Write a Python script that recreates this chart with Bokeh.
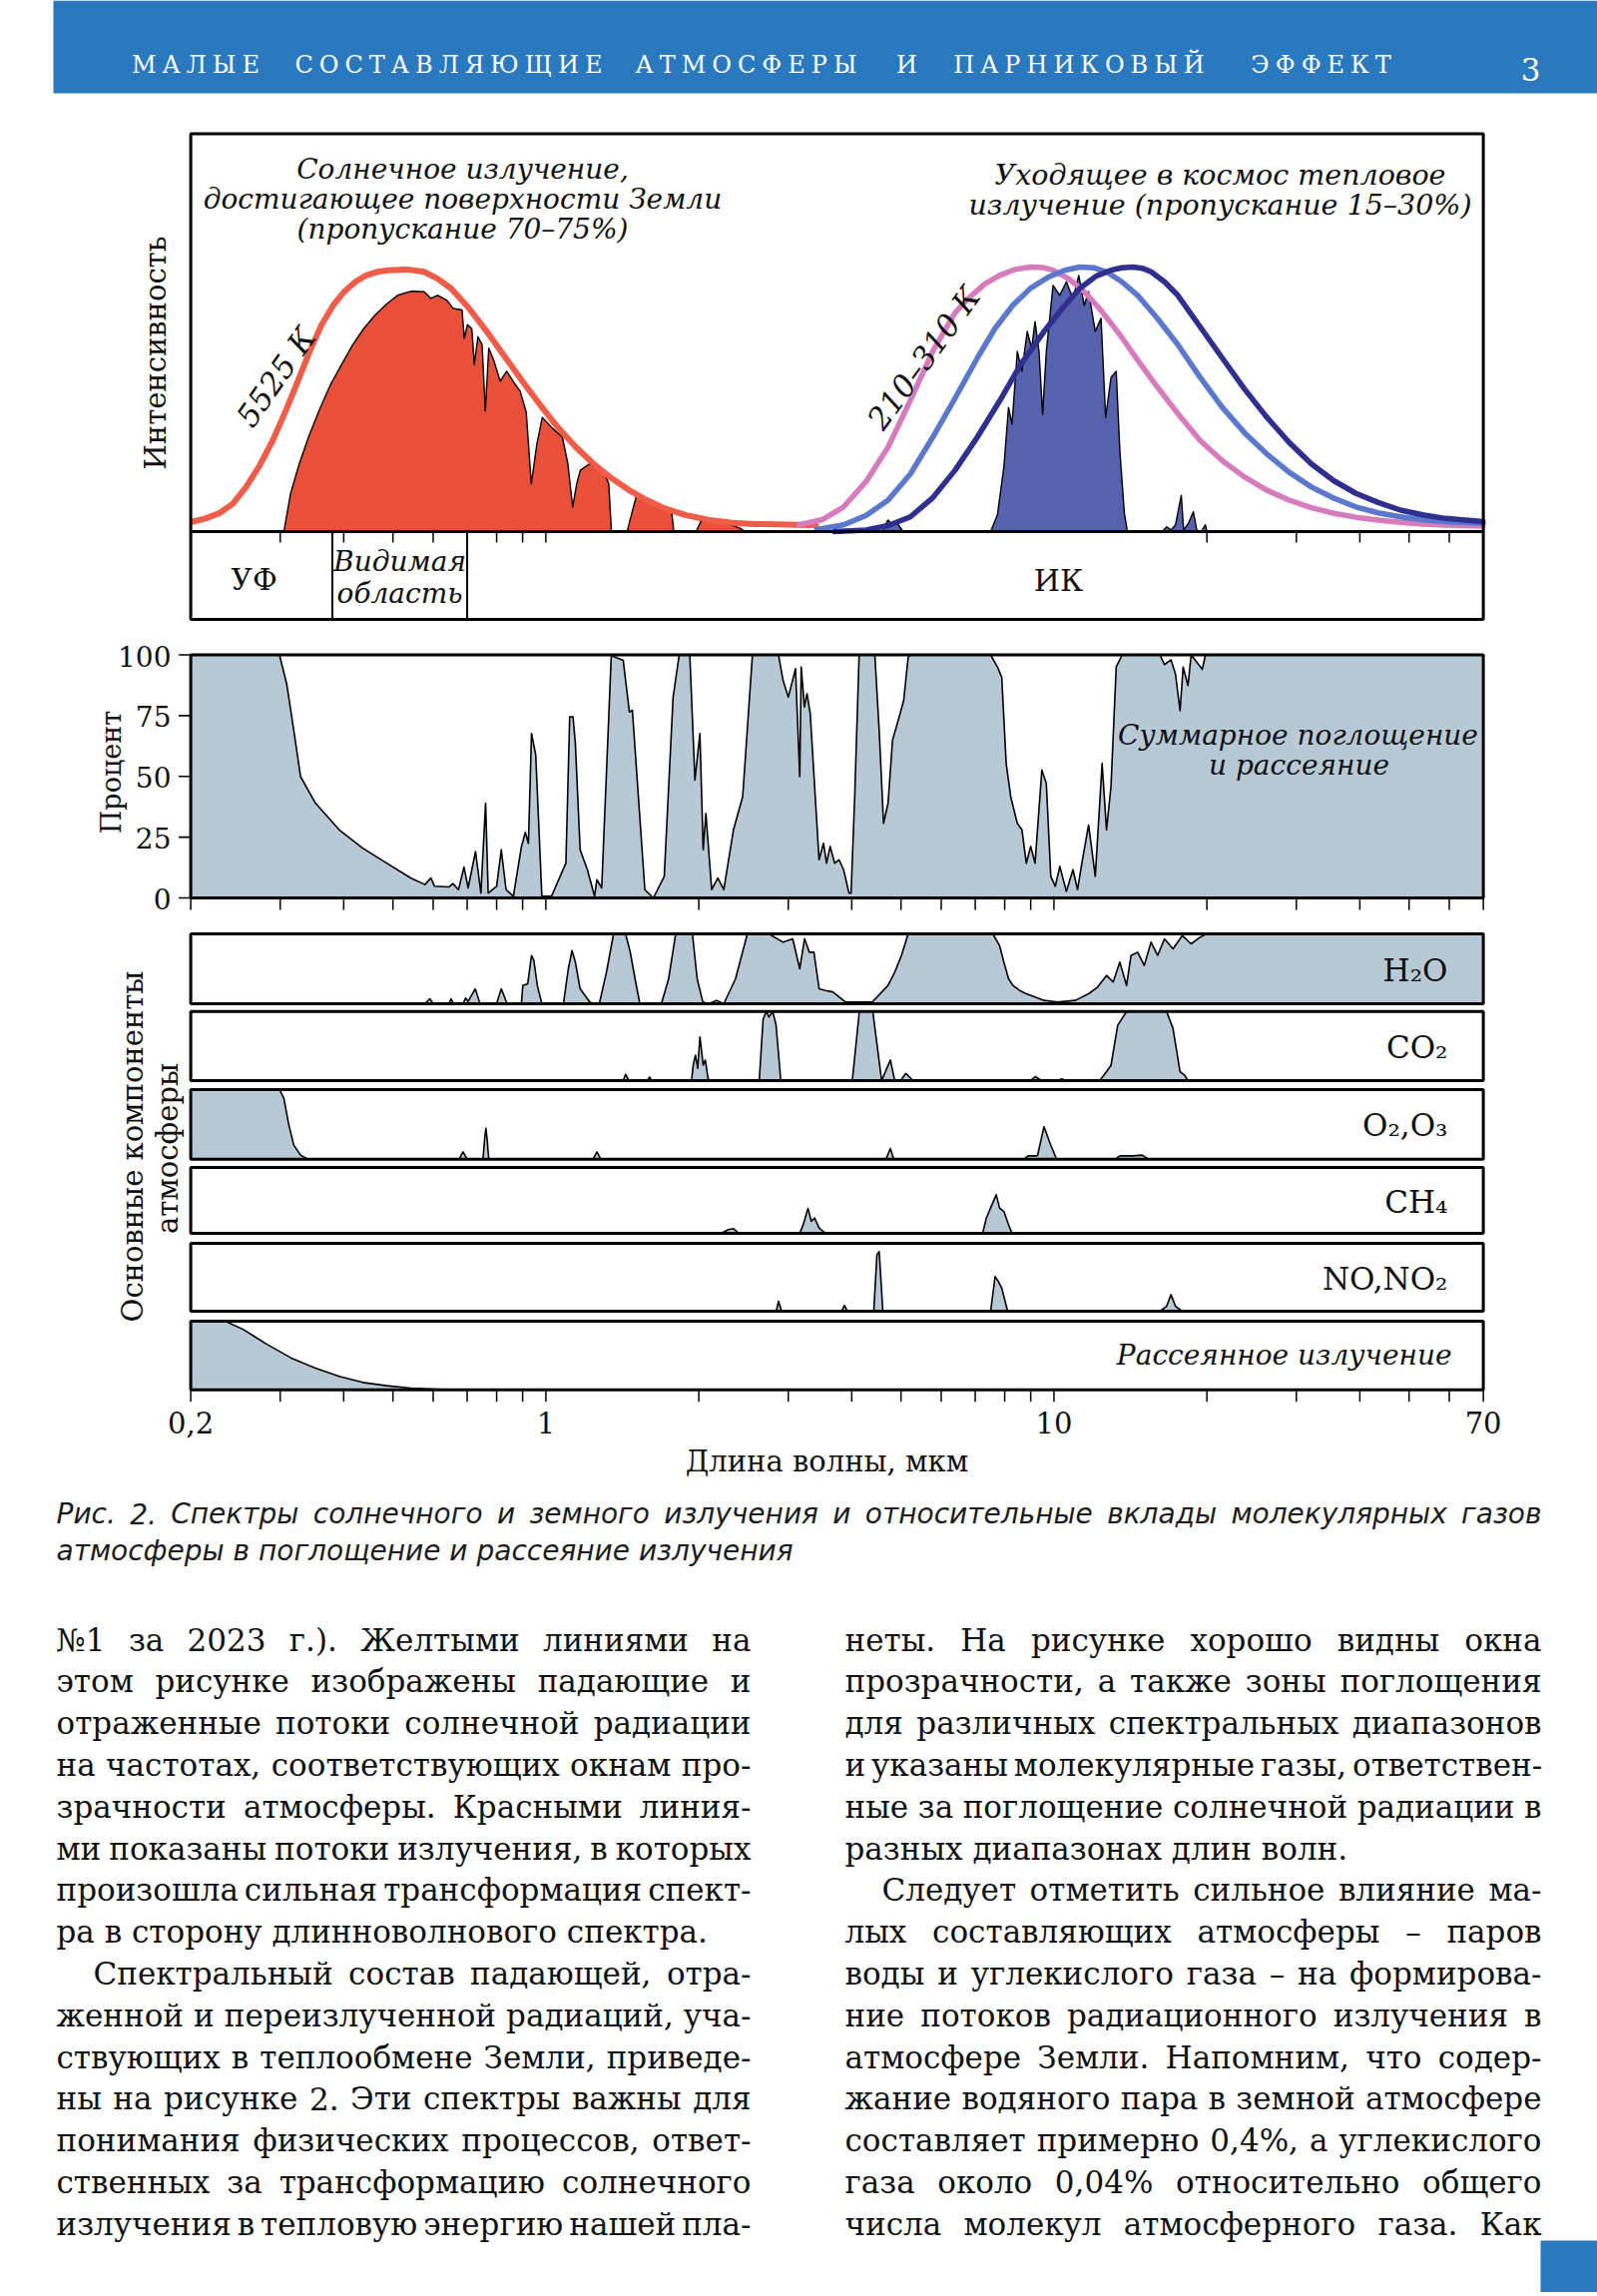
import math, glob, os
from bokeh.plotting import figure
from bokeh.models import Range1d, LinearScale, LogScale
from bokeh.core.properties import value
from bokeh.embed import file_html
from bokeh.resources import INLINE

# ================= DATA (wavelength in micrometres) =================
# Solar black body curve, 5525 K (relative intensity, 0 = baseline, 1 = top of frame)
bb5525_wl = [0.2017, 0.214, 0.2275, 0.242, 0.257, 0.273, 0.29, 0.308, 0.327, 0.344,
             0.362, 0.381, 0.401, 0.422, 0.443, 0.466, 0.49, 0.532, 0.576, 0.612,
             0.651, 0.705, 0.765, 0.83, 0.899, 0.975, 1.056, 1.146, 1.242, 1.346,
             1.459, 1.58, 1.715, 1.89, 2.099, 2.33, 2.569, 2.85, 3.144, 3.40]
bb5525_int = [0.025, 0.033, 0.046, 0.07, 0.112, 0.165, 0.229, 0.305, 0.387, 0.457,
              0.52, 0.568, 0.603, 0.628, 0.644, 0.653, 0.657, 0.659, 0.653, 0.636,
              0.611, 0.562, 0.503, 0.44, 0.378, 0.318, 0.262, 0.212, 0.17, 0.134,
              0.104, 0.079, 0.058, 0.041, 0.029, 0.022, 0.019, 0.018, 0.017, 0.016]

# Solar radiation reaching the surface
solar_wl = [0.305, 0.3145, 0.327, 0.341, 0.358, 0.377, 0.397, 0.417, 0.438, 0.461,
            0.486, 0.511, 0.542, 0.576, 0.594, 0.612, 0.638, 0.657, 0.684, 0.691,
            0.701, 0.715, 0.723, 0.735, 0.749, 0.760, 0.772, 0.79, 0.813, 0.837,
            0.865, 0.89, 0.915, 0.936, 0.96, 0.984, 1.03, 1.078, 1.105, 1.129,
            1.15, 1.169, 1.217, 1.26, 1.306, 1.33, 1.346, 1.445, 1.459, 1.505,
            1.56, 1.614, 1.69, 1.768, 1.786, 1.975, 2.017, 2.142, 2.3, 2.417, 2.467]
solar_int = [0, 0.096, 0.17, 0.237, 0.305, 0.37, 0.422, 0.47, 0.51, 0.544,
             0.572, 0.594, 0.604, 0.603, 0.586, 0.594, 0.582, 0.561, 0.557, 0.486,
             0.52, 0.51, 0.42, 0.49, 0.47, 0.303, 0.461, 0.43, 0.378, 0.403,
             0.375, 0.353, 0.3, 0.12, 0.22, 0.287, 0.26, 0.237, 0.17, 0.062,
             0.12, 0.154, 0.17, 0.16, 0.145, 0.12, 0, 0, 0.021, 0.087,
             0.085, 0.079, 0.065, 0.05, 0, 0, 0.025, 0.029, 0.018, 0.008, 0]

# Thermal curves 210-310 K
ir_cold_wl = [3.15, 3.5, 3.855, 4.264, 4.715, 5.218, 5.773, 6.387, 6.785, 7.3,
              7.815, 8.4, 9.0, 9.5, 9.96, 10.7, 11.47, 12.4, 13.48, 14.6,
              15.84, 17.5, 19.39, 21.45, 23.73, 26.25, 29.04, 32.12, 35.53, 39.3,
              43.48, 48.1, 53.2, 58.9, 69.9]
ir_cold_int = [0.017, 0.03, 0.062, 0.125, 0.212, 0.33, 0.453, 0.55, 0.586, 0.622,
               0.644, 0.659, 0.665, 0.664, 0.657, 0.635, 0.603, 0.555, 0.495, 0.432,
               0.37, 0.298, 0.229, 0.178, 0.137, 0.104, 0.079, 0.06, 0.046, 0.036,
               0.029, 0.023, 0.019, 0.016, 0.014]
ir_mid_wl = [3.414, 3.855, 4.264, 4.715, 5.218, 5.773, 6.387, 7.065, 7.65, 8.302,
             9.0, 9.757, 10.5, 11.24, 12.0, 12.69, 13.6, 14.61, 16.0, 17.53,
             19.39, 21.45, 23.73, 26.25, 29.04, 32.12, 35.53, 39.3, 43.48, 48.1,
             53.2, 58.9, 69.9]
ir_mid_int = [0.005, 0.017, 0.04, 0.079, 0.145, 0.237, 0.335, 0.436, 0.51, 0.569,
              0.612, 0.64, 0.657, 0.665, 0.663, 0.653, 0.628, 0.594, 0.535, 0.47,
              0.388, 0.312, 0.248, 0.195, 0.149, 0.112, 0.084, 0.062, 0.047, 0.037,
              0.03, 0.025, 0.021]
ir_warm_wl = [3.7, 4.264, 4.715, 5.218, 5.773, 6.387, 7.065, 7.815, 8.6, 9.563,
              10.4, 11.24, 12.1, 12.95, 13.6, 14.32, 15.0, 15.53, 16.5, 17.53,
              19.39, 21.45, 23.73, 26.25, 29.04, 32.12, 35.53, 39.3, 43.48, 48.1,
              53.2, 58.9, 69.9]
ir_warm_int = [0.0, 0.004, 0.015, 0.037, 0.085, 0.154, 0.237, 0.328, 0.42, 0.503,
               0.562, 0.611, 0.642, 0.657, 0.663, 0.665, 0.661, 0.653, 0.628, 0.594,
               0.515, 0.436, 0.358, 0.287, 0.224, 0.17, 0.128, 0.096, 0.073, 0.054,
               0.042, 0.033, 0.025]

# Outgoing thermal radiation (transmitted)
earth_wl = [4.6, 4.62, 4.715, 4.81, 4.92, 5.05, 7.506, 7.74, 7.97, 8.14,
            8.27, 8.47, 8.65, 8.86, 9.04, 9.18, 9.35, 9.5, 9.66, 9.96,
            10.27, 10.58, 10.9, 11.19, 11.47, 11.7, 12.06, 12.38, 12.64, 12.95,
            13.26, 13.48, 13.76, 13.95, 16.33, 16.67, 17.0, 17.35, 17.81, 18.0,
            18.4, 18.81, 19.1, 19.5, 19.86, 20.0]
earth_int = [0, 0.01, 0.029, 0.017, 0.02, 0, 0, 0.042, 0.162, 0.312,
             0.27, 0.453, 0.403, 0.503, 0.461, 0.528, 0.45, 0.295, 0.453, 0.619,
             0.594, 0.628, 0.586, 0.644, 0.569, 0.603, 0.503, 0.536, 0.287, 0.387,
             0.403, 0.204, 0.046, 0, 0, 0.012, 0.004, 0.017, 0.091, 0.004,
             0.021, 0.05, 0.004, 0, 0.017, 0]

# Total absorption and scattering, percent
pct_wl = [0.2, 0.299, 0.309, 0.319, 0.329, 0.352, 0.392, 0.436, 0.486, 0.542,
          0.578, 0.594, 0.604, 0.644, 0.656, 0.673, 0.69, 0.703, 0.727, 0.745,
          0.761, 0.77, 0.80, 0.817, 0.835, 0.863, 0.895, 0.911, 0.924, 0.937,
          0.955, 0.982, 1.026, 1.095, 1.114, 1.131, 1.143, 1.168, 1.207, 1.247,
          1.26, 1.288, 1.345, 1.42, 1.46, 1.48, 1.566, 1.628, 1.71, 1.78,
          1.83, 1.92, 1.965, 2.01, 2.04, 2.065, 2.12, 2.18, 2.24, 2.34,
          2.44, 2.55, 2.87, 2.93, 3.0, 3.1, 3.16, 3.181, 3.227, 3.266,
          3.314, 3.449, 3.519, 3.568, 3.627, 3.702, 3.776, 3.855, 3.95, 3.988,
          4.054, 4.136, 4.441, 4.529, 4.62, 4.715, 4.812, 4.96, 5.062, 5.165,
          5.218, 7.506, 7.74, 7.893, 8.054, 8.22, 8.47, 8.65, 8.822, 9.0,
          9.18, 9.467, 9.66, 9.858, 10.06, 10.27, 10.58, 10.9, 11.13, 11.35,
          11.7, 12.06, 12.44, 12.69, 12.95, 13.26, 13.62, 16.17, 16.5, 17.0,
          17.35, 17.71, 17.96, 18.36, 18.62, 19.59, 19.87, 70]
pct_val = [100, 100, 88, 69, 49.9, 39, 28, 20.5, 14.3, 8.2,
           5.5, 8.2, 4.8, 4.5, 5.9, 3.4, 12.7, 4.1, 19.1, 2,
           39, 2, 4.8, 19.8, 3.4, 0.7, 21, 27, 22.5, 67.6,
           59, 0.7, 0.7, 14.3, 74.5, 74.5, 63.5, 19.8, 11.6, 0.7,
           7.5, 4.1, 99.7, 97.7, 76.5, 77.2, 3.4, 0, 8.9, 82.6,
           100, 100, 48.5, 67.6, 19.8, 34.8, 3.4, 8.2, 3.4, 28,
           41.7, 100, 100, 89.5, 82.6, 94.3, 49.9, 95, 78.6, 84,
           75.8, 15.7, 22.5, 14.3, 21.2, 14.3, 15.7, 11.6, 2, 2,
           41.7, 100, 100, 69, 30.7, 38.9, 64.9, 74.5, 81.3, 99,
           100, 100, 95, 90.8, 55.3, 41.7, 30.7, 28, 14.3, 21.2,
           14.3, 52.6, 47.1, 8.9, 4.8, 13, 2.7, 11.6, 3.4, 14.3,
           30, 8.9, 55.3, 28, 45.8, 95, 100, 100, 96, 98,
           92, 77, 95, 87.4, 100, 94, 100, 100]

# Individual atmospheric components (relative absorption 0..1)
h2o_wl = [0.578, 0.591, 0.6, 0.644, 0.651, 0.658, 0.687, 0.695, 0.703, 0.726,
          0.742, 0.80, 0.817, 0.839, 0.895, 0.901, 0.921, 0.937, 0.947, 0.962,
          0.982, 1.083, 1.107, 1.126, 1.143, 1.168, 1.207, 1.22, 1.247, 1.274,
          1.316, 1.359, 1.435, 1.466, 1.498, 1.531, 1.688, 1.744, 1.801, 1.943,
          1.985, 2.037, 2.095, 2.166, 2.24, 2.362, 2.492, 2.747, 2.93, 3.061,
          3.16, 3.23, 3.3, 3.37, 3.45, 3.55, 3.67, 3.89, 4.39, 4.715,
          4.86, 5.01, 5.165, 7.58, 7.815, 7.97, 8.14, 8.3, 8.56, 8.82,
          9.18, 9.56, 10.16, 11.02, 11.7, 12.19, 12.69, 13.08, 13.48, 13.9,
          14.18, 14.61, 15.06, 15.53, 16.0, 16.5, 17.15, 17.89, 18.62, 19.39,
          19.99, 70]
h2o_val = [0, 0.071, 0, 0, 0.071, 0, 0, 0.081, 0.033, 0.214,
           0, 0, 0.214, 0, 0, 0.262, 0.286, 0.69, 0.619, 0.262,
           0, 0, 0.5, 0.762, 0.595, 0.214, 0.071, 0.024, 0, 0,
           0.452, 1.0, 1.0, 0.738, 0.357, 0, 0, 0.357, 1.0, 1.0,
           0.357, 0.024, 0, 0.048, 0, 0.357, 1.0, 1.0, 0.881, 0.929,
           0.5, 0.929, 0.738, 0.738, 0.214, 0.19, 0.17, 0.024, 0.024, 0.262,
           0.452, 0.69, 1.0, 1.0, 0.833, 0.595, 0.357, 0.262, 0.19, 0.143,
           0.095, 0.048, 0.024, 0.048, 0.143, 0.238, 0.405, 0.31, 0.595, 0.262,
           0.69, 0.738, 0.548, 0.881, 0.69, 0.929, 0.786, 0.976, 0.857, 0.952,
           1.0, 1.0]
co2_wl = [1.42, 1.435, 1.457, 1.582, 1.6, 1.617, 1.935, 1.95, 1.97, 1.99,
          2.01, 2.04, 2.06, 2.085, 2.1, 2.63, 2.677, 2.718, 2.747, 2.796,
          2.838, 2.9, 4.01, 4.14, 4.40, 4.58, 4.765, 4.86, 4.99, 5.11,
          5.28, 9.0, 9.18, 9.47, 10.16, 10.36, 10.58, 12.31, 12.69, 12.95,
          13.35, 13.9, 16.66, 17.15, 17.71, 18.07, 18.36]
co2_val = [0, 0.091, 0, 0, 0.053, 0, 0, 0.225, 0.368, 0.177,
           0.632, 0.225, 0.297, 0.033, 0, 0, 0.895, 1.0, 0.919, 1.0,
           0.804, 0, 0, 1.0, 1.0, 0, 0.297, 0, 0, 0.105,
           0, 0, 0.057, 0, 0, 0.024, 0, 0, 0.129, 0.22,
           0.799, 1.0, 1.0, 0.756, 0.129, 0.081, 0]
o3_wl = [0.2, 0.299, 0.305, 0.312, 0.319, 0.329, 0.34, 0.675, 0.687, 0.7,
         0.752, 0.758, 0.762, 0.766, 0.772, 1.239, 1.26, 1.282, 4.67, 4.765,
         4.84, 8.73, 8.9, 9.18, 9.28, 9.56, 9.86, 10.12, 13.21, 13.48,
         14.32, 14.91, 15.36]
o3_val = [1.0, 1.0, 0.875, 0.49, 0.202, 0.058, 0, 0, 0.106, 0,
          0, 0.3, 0.442, 0.3, 0, 0, 0.106, 0, 0, 0.154,
          0, 0, 0.048, 0.048, 0.05, 0.466, 0.2, 0, 0, 0.048,
          0.048, 0.058, 0]
ch4_wl = [2.212, 2.285, 2.34, 2.40, 3.16, 3.21, 3.28, 3.33, 3.38, 3.45,
          3.55, 7.24, 7.36, 7.55, 7.7, 7.815, 7.97, 8.14, 8.27]
ch4_val = [0, 0.056, 0.071, 0, 0, 0.13, 0.38, 0.182, 0.232, 0.081,
           0, 0, 0.232, 0.434, 0.586, 0.384, 0.333, 0.131, 0]
no_wl = [2.84, 2.87, 2.91, 3.82, 3.87, 3.92, 4.42, 4.483, 4.53, 4.605,
         7.506, 7.66, 7.77, 7.893, 8.1, 8.47, 16.17, 16.66, 17.0, 17.35, 17.89]
no_val = [0, 0.146, 0, 0, 0.085, 0, 0, 0.83, 0.878, 0,
          0, 0.512, 0.439, 0.341, 0.01, 0, 0, 0.073, 0.244, 0.073, 0]
scat_wl = [0.2, 0.2356, 0.254, 0.283, 0.3155, 0.352, 0.392, 0.436, 0.486, 0.542, 0.604, 0.673]
scat_val = [1.0, 0.99, 0.878, 0.659, 0.463, 0.317, 0.195, 0.107, 0.059, 0.024, 0.0098, 0]

# spectral band edges (UV | visible | IR) and axis ticks
band_edges = [0.38, 0.70]
tick_wl_all = [0.2, 0.3, 0.4, 0.5, 0.6, 0.7, 0.8, 0.9, 1, 2, 3, 4, 5, 6, 7, 8, 9, 10,
               20, 30, 40, 50, 60, 70]
tick_wl_top = [0.3, 0.4, 0.5, 0.6, 0.7, 0.8, 0.9, 1, 20, 30, 40, 50, 60]
axis_label_wl = [0.2, 1, 10, 70]
axis_label_txt = ["0,2", "1", "10", "70"]
pct_ticks = [0, 25, 50, 75, 100]
pct_tick_txt = ["0", "25", "50", "75", "100"]

# ================= TEXT =================
header_words = ["МАЛЫЕ", "СОСТАВЛЯЮЩИЕ", "АТМОСФЕРЫ", "И", "ПАРНИКОВЫЙ", "ЭФФЕКТ"]
page_number = "3"
title_left = ["Солнечное излучение,", "достигающее поверхности Земли", "(пропускание 70–75%)"]
title_right = ["Уходящее в космос тепловое", "излучение (пропускание 15–30%)"]
pct_note = ["Суммарное поглощение", "и рассеяние"]
component_names = ["H₂O", "CO₂", "O₂,O₃", "CH₄", "NO,NO₂"]
caption_lines = [
    ("Рис. 2. Спектры солнечного и земного излучения и относительные вклады молекулярных газов", "j"),
    ("атмосферы в поглощение и рассеяние излучения", "e"),
]
left_col = [
    ("№1 за 2023 г.). Желтыми линиями на", "j"),
    ("этом рисунке изображены падающие и", "j"),
    ("отраженные потоки солнечной радиации", "j"),
    ("на частотах, соответствующих окнам про-", "j"),
    ("зрачности атмосферы. Красными линия-", "j"),
    ("ми показаны потоки излучения, в которых", "j"),
    ("произошла сильная трансформация спект-", "j"),
    ("ра в сторону длинноволнового спектра.", "e"),
    ("Спектральный состав падающей, отра-", "ij"),
    ("женной и переизлученной радиаций, уча-", "j"),
    ("ствующих в теплообмене Земли, приведе-", "j"),
    ("ны на рисунке  2. Эти спектры важны для", "j"),
    ("понимания физических процессов, ответ-", "j"),
    ("ственных за трансформацию солнечного", "j"),
    ("излучения в тепловую энергию нашей пла-", "j"),
]
right_col = [
    ("неты. На рисунке хорошо видны окна", "j"),
    ("прозрачности, а также зоны поглощения", "j"),
    ("для различных спектральных диапазонов", "j"),
    ("и указаны молекулярные газы, ответствен-", "j"),
    ("ные за поглощение солнечной радиации в", "j"),
    ("разных диапазонах длин волн.", "e"),
    ("Следует отметить сильное влияние ма-", "ij"),
    ("лых составляющих атмосферы – паров", "j"),
    ("воды и углекислого газа – на формирова-", "j"),
    ("ние потоков радиационного излучения в", "j"),
    ("атмосфере Земли. Напомним, что содер-", "j"),
    ("жание водяного пара в земной атмосфере", "j"),
    ("составляет примерно 0,4%, а углекислого", "j"),
    ("газа около 0,04% относительно общего", "j"),
    ("числа молекул атмосферного газа. Как", "j"),
]

# ================= STYLE / LAYOUT (page pixels) =================
HEADER_BLUE = "#2a79bf"
RED_FILL = "#e9503a"
RED_LINE = "#ef5c47"
EARTH_FILL = "#5662ae"
PINK = "#d67cbd"
MBLUE = "#5b78cc"
NAVY = "#2e2f8e"
GRAY = "#b8c9d6"
SERIF = "DejaVu Serif"
SANS = "DejaVu Sans"

W, H = 1600, 2296
FL, FT = 0, 0
FR, FB = FL + W, FT + H
X02, X70 = 190.6, 1485.6          # page x of 0.2 and 70 um

def vrange(px_top, px_bot, v_top=1.0, v_bot=0.0):
    k = (v_top - v_bot) / (px_bot - px_top)
    return Range1d(start=v_bot - k * (FB - px_bot), end=v_top + k * (px_top - FT))

L0, L1 = math.log10(0.2), math.log10(70)
dpp = (L1 - L0) / (X70 - X02)
xr = Range1d(start=10 ** (L0 - dpp * (X02 - FL)), end=10 ** (L1 + dpp * (FR - X70)))

p = figure(width=W, height=H, x_range=xr, y_range=Range1d(FB, FT),
           x_axis_location=None, y_axis_location=None, toolbar_location=None,
           output_backend="svg", min_border=0, outline_line_color=None,
           background_fill_color="white", border_fill_color="white")
p.x_scale = LogScale()
p.y_scale = LinearScale()
p.title.visible = False
for g in p.grid:
    g.visible = False

INT_TOP, INT_BASE, BAND_BOT = 133.5, 532, 620
PCT_TOP, PCT_BOT = 655.5, 899
COMP = [(935, 1005), (1012.7, 1082), (1091, 1160.7), (1169, 1235), (1245, 1313), (1323, 1391.7)]
comp_keys = ["h2o", "co2", "o3", "ch4", "no", "sc"]

p.extra_x_ranges = {"page": Range1d(FL, FR)}
p.extra_x_scales = {"page": LinearScale()}
yr = {"int": vrange(INT_TOP, INT_BASE), "pct": vrange(PCT_TOP, PCT_BOT, 100, 0)}
for k, (t, b) in zip(comp_keys, COMP):
    yr[k] = vrange(t, b)
p.extra_y_ranges = yr
p.extra_y_scales = {k: LinearScale() for k in yr}

def pair(a, b):
    n = min(len(a), len(b))
    return list(a[:n]), list(b[:n])

def area(wl, v, rng, color, lw=1.5):
    x, y = pair(wl, v)
    p.varea(x=x, y1=[0] * len(x), y2=y, fill_color=color, y_range_name=rng)
    p.line(x=x, y=y, line_color="black", line_width=lw, line_join="round", y_range_name=rng)

def curve(wl, v, rng, color, lw):
    x, y = pair(wl, v)
    p.line(x=x, y=y, line_color=color, line_width=lw, line_join="round", line_cap="round",
           y_range_name=rng)

def txt(x, y, s, size, font=SERIF, style="normal", align="left", baseline="alphabetic",
        angle=0.0, color="#111111", xname="page", yname=None, **kw):
    args = dict(x=[x], y=[y], text=[s], text_font=value(font), text_font_size=f"{size}px",
                text_font_style=style, text_align=align, text_baseline=baseline,
                angle=angle, text_color=color)
    if xname:
        args["x_range_name"] = xname
    if yname:
        args["y_range_name"] = yname
    args.update(kw)
    p.text(**args)

# ---------- header ----------
p.quad(left=[53], right=[1600], top=[0], bottom=[93], x_range_name="page",
       fill_color=HEADER_BLUE, line_color=None)
hx = [195.5, 449, 747, 908, 1080.5, 1323]
p.text(x=hx, y=[64] * len(hx), text=["\u2005".join(w) for w in header_words],
       x_range_name="page", text_font=value(SERIF), text_font_size="24px",
       text_align="center", text_baseline="alphabetic", text_color="white")
txt(1533, 69, page_number, 31, align="center", color="white")
p.quad(left=[1543], right=[1600], top=[2244], bottom=[2300], x_range_name="page",
       fill_color=HEADER_BLUE, line_color=None)

# ---------- intensity panel ----------
area(solar_wl, solar_int, "int", RED_FILL, 1.4)
curve(bb5525_wl, bb5525_int, "int", RED_LINE, 6)
area(earth_wl, earth_int, "int", EARTH_FILL, 1.4)
curve(ir_cold_wl, ir_cold_int, "int", PINK, 5.5)
curve(ir_mid_wl, ir_mid_int, "int", MBLUE, 5.5)
curve(ir_warm_wl, ir_warm_int, "int", NAVY, 5.5)
p.quad(left=[0.2], right=[70], top=[INT_TOP], bottom=[BAND_BOT], fill_color=None,
       line_color="black", line_width=3)
p.segment(x0=[0.2], x1=[70], y0=[INT_BASE], y1=[INT_BASE], line_color="black", line_width=3)
p.segment(x0=band_edges, x1=band_edges, y0=[INT_BASE] * 2, y1=[BAND_BOT] * 2,
          line_color="black", line_width=2)
p.segment(x0=tick_wl_top, x1=tick_wl_top, y0=[INT_BASE] * len(tick_wl_top),
          y1=[INT_BASE + 11] * len(tick_wl_top), line_color="black", line_width=1.5)

for i, s in enumerate(title_left):
    txt(463, 169 + 30 * i, s, 28, style="italic", align="center")
for i, s in enumerate(title_right):
    txt(1222, 175 + 30 * i, s, 28.5, style="italic", align="center")
txt(276, 377, "5525 К", 31, style="italic", align="center", baseline="middle",
    angle=math.radians(55))
txt(925, 358, "210–310 К", 31, style="italic", align="center", baseline="middle",
    angle=math.radians(54))
txt(155, 353, "Интенсивность", 29, align="center", baseline="middle", angle=math.pi / 2)
txt(254, 580, "УФ", 30, align="center")
txt(400, 562, "Видимая", 28, style="italic", align="center")
txt(400, 594, "область", 28, style="italic", align="center")
txt(1060, 581, "ИК", 30, align="center")

# ---------- percent panel ----------
area(pct_wl, pct_val, "pct", GRAY, 1.6)
p.quad(left=[0.2], right=[70], top=[100], bottom=[0], y_range_name="pct",
       fill_color=None, line_color="black", line_width=3)
p.segment(x0=[X02 - 12] * len(pct_ticks), x1=[X02] * len(pct_ticks), y0=pct_ticks, y1=pct_ticks,
          x_range_name="page", y_range_name="pct", line_color="black", line_width=1.6)
p.text(x=[171] * len(pct_ticks), y=pct_ticks, text=pct_tick_txt, x_range_name="page",
       y_range_name="pct", text_font=value(SERIF), text_font_size="28px", text_align="right",
       text_baseline="alphabetic", y_offset=1, text_color="#111111")
p.segment(x0=tick_wl_all, x1=tick_wl_all, y0=[PCT_BOT] * len(tick_wl_all),
          y1=[PCT_BOT + 12] * len(tick_wl_all), line_color="black", line_width=1.5)
txt(111, 773, "Процент", 27, align="center", baseline="middle", angle=math.pi / 2)
txt(1300, 736, pct_note[0], 28, style="italic", align="center")
txt(1301, 766, pct_note[1], 28, style="italic", align="center")

# ---------- component panels ----------
comp_data = [(h2o_wl, h2o_val), (co2_wl, co2_val), (o3_wl, o3_val), (ch4_wl, ch4_val),
             (no_wl, no_val), (scat_wl, scat_val)]
for k, (wl, v), (t, b) in zip(comp_keys, comp_data, COMP):
    area(wl, v, k, GRAY, 1.6)
    p.quad(left=[0.2], right=[70], top=[1], bottom=[0], y_range_name=k,
           fill_color=None, line_color="black", line_width=3)
for name, (t, b) in zip(component_names, COMP[:5]):
    txt(1450, (t + b) / 2 + 1, name, 31, align="right")
txt(1454, (COMP[5][0] + COMP[5][1]) / 2 + 0, "Рассеянное излучение", 28, style="italic",
    align="right")
txt(132, 1148, "Основные компоненты", 29, align="center", baseline="middle", angle=math.pi / 2)
txt(167, 1150, "атмосферы", 29, align="center", baseline="middle", angle=math.pi / 2)

# bottom axis
yb = COMP[5][1]
p.segment(x0=tick_wl_all, x1=tick_wl_all, y0=[yb] * len(tick_wl_all),
          y1=[yb + 12] * len(tick_wl_all), line_color="black", line_width=1.5)
p.text(x=axis_label_wl, y=[1424] * len(axis_label_wl), text=axis_label_txt,
       text_font=value(SERIF), text_font_size="29px", text_align="center",
       text_baseline="alphabetic", text_color="#111111")
txt(828, 1463.5, "Длина волны, мкм", 29, align="center")

# ---------- caption and body text (justified) ----------
try:
    from PIL import ImageFont
except Exception:
    ImageFont = None

def _find(fname):
    for root in ("/usr/share/fonts", "/usr/local/share/fonts",
                 os.path.expanduser("~/.fonts"), os.path.expanduser("~/.local/share/fonts")):
        hits = glob.glob(os.path.join(root, "**", fname), recursive=True)
        if hits:
            return hits[0]
    return None

_fonts = {}
def measurer(fname, size, em=0.58):
    if fname not in _fonts:
        f = None
        if ImageFont is not None:
            path = _find(fname)
            if path:
                try:
                    f = ImageFont.truetype(path, 200)
                except Exception:
                    f = None
        _fonts[fname] = f
    f = _fonts[fname]
    def m(s):
        if f is not None:
            return f.getlength(s) * size / 200.0
        return len(s) * size * em
    return m

def layout(lines, x0, x1, y0, dy, meas, indent=37):
    xs, ys, ts = [], [], []
    space = meas(" ")
    for i, (s, mode) in enumerate(lines):
        y = y0 + dy * i
        start = x0 + (indent if mode.startswith("i") else 0)
        words = s.split()
        if mode.endswith("j") and len(words) > 1:
            ws = [meas(w) for w in words]
            gap = max((x1 - start - sum(ws)) / (len(words) - 1), 0.6 * space)
            x = start
            for w, wd in zip(words, ws):
                xs.append(x); ys.append(y); ts.append(w)
                x += wd + gap
        else:
            xs.append(start); ys.append(y); ts.append(" ".join(words))
    return xs, ys, ts

cap_size = 28
cm = measurer("DejaVuSans-Oblique.ttf", cap_size)
cx, cy, ct = layout(caption_lines, 56, 1544, 1516, 36.5, cm)
p.text(x=cx, y=cy, text=ct, x_range_name="page", text_font=value(SANS),
       text_font_size=f"{cap_size}px", text_font_style="italic", text_align="left",
       text_baseline="alphabetic", text_color="#1c1c1c")

body_size = 31
bm = measurer("DejaVuSerif.ttf", body_size)
lx, ly, lt = layout(left_col, 56, 752, 1642, 41.8, bm)
rx, ry, rt = layout(right_col, 846, 1544, 1642, 41.8, bm)
p.text(x=lx + rx, y=ly + ry, text=lt + rt, x_range_name="page", text_font=value(SERIF),
       text_font_size=f"{body_size}px", text_align="left", text_baseline="alphabetic",
       text_color="#111111")

open("out.html", "w").write(file_html(p, INLINE))
